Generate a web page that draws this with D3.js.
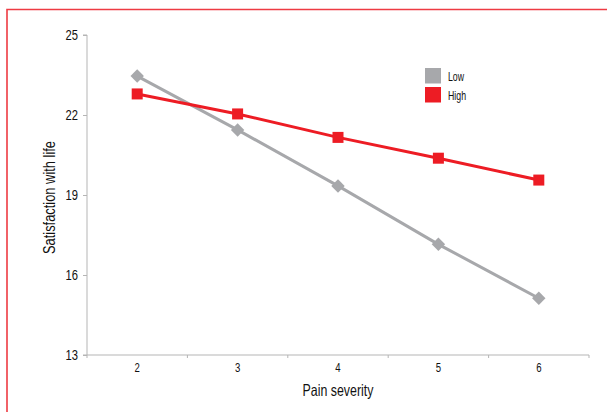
<!DOCTYPE html>
<html><head><meta charset="utf-8">
<script src="https://cdn.jsdelivr.net/npm/d3@7"></script>
<style>
body{margin:0;background:#fff;}
svg{display:block;font-family:"Liberation Sans",Arial,sans-serif;}
</style></head>
<body><svg id="c" width="607" height="412"></svg>
<script>
const categories = ["2","3","4","5","6"];
const lowValues = [23.46, 21.44, 19.34, 17.15, 15.13];
const highValues = [22.79, 22.04, 21.16, 20.38, 19.56];
const yTicks = [13, 16, 19, 22, 25];
const seriesNames = ["Low", "High"];
const colors = ["#a7a8ab", "#ed1c24"];

const svg = d3.select("#c");
svg.append("path").attr("d","M7,412 V9.5 H607").attr("fill","none").attr("stroke","#ee3b43").attr("stroke-width",1.6);

const m = {l:87, r:589, t:35, b:355};
const x = d3.scaleBand().domain(categories).range([m.l, m.r]);
const y = d3.scaleLinear().domain([13,25]).range([m.b, m.t]);

function condense(sel, f){
  sel.each(function(){
    const w = this.getComputedTextLength();
    if (w > 0) d3.select(this).attr("textLength", w*f).attr("lengthAdjust","spacingAndGlyphs");
  });
}

const gy = svg.append("g").attr("transform",`translate(${m.l},0)`)
  .call(d3.axisLeft(y).tickValues(yTicks).tickSize(4).tickPadding(5).tickFormat(d3.format("d")));
gy.select(".domain").attr("stroke","#b5b5b5").attr("d",`M-4,${m.t}H0V${m.b}H-4`);
gy.selectAll(".tick line").attr("stroke","#b5b5b5");
gy.selectAll(".tick text").attr("font-size",14).attr("fill","#111").attr("font-family","inherit");
condense(gy.selectAll(".tick text"), 0.8);

const gx = svg.append("g").attr("transform",`translate(0,${m.b})`)
  .call(d3.axisBottom(x).tickSize(0).tickPadding(8));
gx.select(".domain").attr("stroke","#b5b5b5").attr("d",`M${m.l},0H${m.r}`);
gx.selectAll(".tick text").attr("font-size",12).attr("fill","#111").attr("font-family","inherit");
condense(gx.selectAll(".tick text"), 0.8);
const bounds = categories.map(c=>x(c)).concat([x(categories[categories.length-1])+x.bandwidth()]);
gx.selectAll(".bt").data(bounds).enter().append("line").attr("class","bt")
  .attr("x1",d=>d).attr("x2",d=>d).attr("y1",0).attr("y2",3).attr("stroke","#b5b5b5");

const t1 = svg.append("text").attr("x",(m.l+m.r)/2).attr("y",396).attr("text-anchor","middle")
  .attr("font-size",16.5).attr("fill","#111").text("Pain severity");
const t2 = svg.append("text").attr("transform",`translate(55,197.5) rotate(-90)`).attr("text-anchor","middle")
  .attr("font-size",16.5).attr("fill","#111").text("Satisfaction with life");
condense(t1, 0.75); condense(t2, 0.78);

const cx = c => x(c) + x.bandwidth()/2;
const line = d3.line().x((d,i)=>cx(categories[i])).y(d=>y(d));

svg.append("path").datum(lowValues).attr("d",line).attr("fill","none").attr("stroke",colors[0]).attr("stroke-width",3);
svg.append("path").datum(highValues).attr("d",line).attr("fill","none").attr("stroke",colors[1]).attr("stroke-width",3);

svg.selectAll(".dl").data(lowValues).enter().append("rect").attr("class","dl")
  .attr("width",9.5).attr("height",9.5).attr("x",-4.75).attr("y",-4.75)
  .attr("transform",(d,i)=>`translate(${cx(categories[i])},${y(d)}) rotate(45)`)
  .attr("fill",colors[0]);
svg.selectAll(".dh").data(highValues).enter().append("rect").attr("class","dh")
  .attr("x",(d,i)=>cx(categories[i])-5.5).attr("y",d=>y(d)-5.5).attr("width",11).attr("height",11)
  .attr("fill",colors[1]);

const lg = svg.append("g");
seriesNames.forEach((s,i)=>{
  lg.append("rect").attr("x",425).attr("y",68+i*19).attr("width",16).attr("height",15.5).attr("fill",colors[i]);
  const t = lg.append("text").attr("x",448).attr("y",80.5+i*19).attr("font-size",12.5).attr("fill","#111").text(s);
  condense(t, 0.7);
});
</script></body></html>
